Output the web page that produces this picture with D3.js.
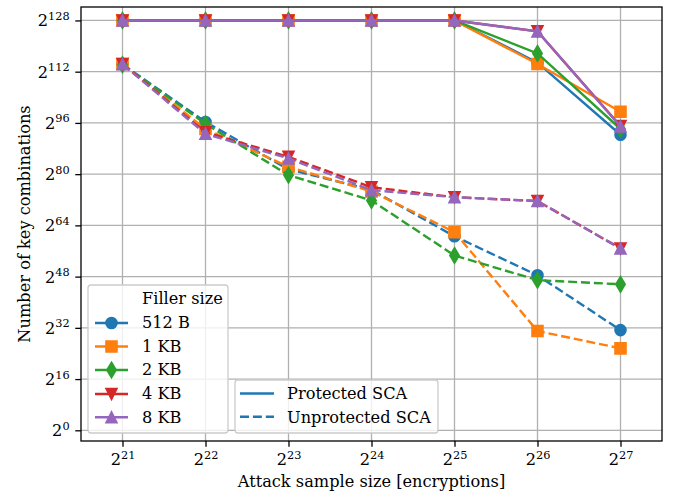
<!DOCTYPE html>
<html>
<head>
<meta charset="utf-8">
<script src="https://cdn.jsdelivr.net/npm/d3@7"></script>
<style>
  body { margin: 0; background: #fff; }
  text { font-family: "DejaVu Serif", serif; fill: #000; }
</style>
</head>
<body>
<div id="chart-holder"></div>
<script>
// x positions are log2 of the attack sample size
const exponents = [21, 22, 23, 24, 25, 26, 27];
const yTicks = [0, 16, 32, 48, 64, 80, 96, 112, 128];
const fillerSizes = ["512 B", "1 KB", "2 KB", "4 KB", "8 KB"];
const colors = ["#1f77b4", "#ff7f0e", "#2ca02c", "#d62728", "#9467bd"];
const markers = ["circle", "square", "thinDiamond", "triDown", "triUp"];

// log2 of the number of key combinations
const protected512B = [128, 128, 128, 128, 128, 114.8, 92.3];
const protected1KB  = [128, 128, 128, 128, 128, 114.4, 99.5];
const protected2KB  = [128, 128, 128, 128, 128, 117.7, 94.1];
const protected4KB  = [128, 128, 128, 128, 128, 124.6, 95.0];
const protected8KB  = [128, 128, 128, 128, 128, 124.6, 94.9];

const unprotected512B = [114.3, 96.3, 81.5, 75.1, 60.6, 48.4, 31.3];
const unprotected1KB  = [114.4, 94.1, 82.3, 74.6, 61.9, 31.0, 25.6];
const unprotected2KB  = [114.2, 95.7, 79.7, 71.8, 54.6, 46.9, 45.6];
const unprotected4KB  = [114.4, 93.1, 85.4, 75.9, 72.8, 71.6, 56.8];
const unprotected8KB  = [114.3, 92.6, 84.9, 75.0, 72.8, 71.6, 56.8];

const protectedSeries = [protected512B, protected1KB, protected2KB, protected4KB, protected8KB];
const unprotectedSeries = [unprotected512B, unprotected1KB, unprotected2KB, unprotected4KB, unprotected8KB];

const width = 674, height = 496;
const plotLeft = 81, plotRight = 662, plotTop = 7, plotBottom = 441;
const fontSize = "16.2px";
const lineW = 2.4;
const dash = "9,3.9";

const svg = d3.select("#chart-holder").append("svg")
    .attr("width", width)
    .attr("height", height);

const xScale = d3.scaleLinear().domain([20.5, 27.5]).range([plotLeft, plotRight]);
const yScale = d3.scaleLinear().domain([-3.34, 132.2]).range([plotBottom, plotTop]);

// grid
const grid = svg.append("g").attr("class", "grid");
grid.selectAll(".gx").data(exponents).enter().append("line")
    .attr("x1", d => xScale(d)).attr("x2", d => xScale(d))
    .attr("y1", plotTop).attr("y2", plotBottom)
    .attr("stroke", "#b0b0b0").attr("stroke-width", 1.3);
grid.selectAll(".gy").data(yTicks).enter().append("line")
    .attr("x1", plotLeft).attr("x2", plotRight)
    .attr("y1", d => yScale(d)).attr("y2", d => yScale(d))
    .attr("stroke", "#b0b0b0").attr("stroke-width", 1.3);

// marker shapes (size ms in px)
const ms = 11;
function markerPath(kind) {
  const h = ms / 2;
  if (kind === "circle") return d3.symbol(d3.symbolCircle, Math.PI * h * h)();
  if (kind === "square") return `M${-h},${-h}H${h}V${h}H${-h}Z`;
  if (kind === "thinDiamond") {
    const dy = ms * Math.SQRT2 / 2, dx = 0.6 * dy;
    return `M0,${-dy}L${dx},0L0,${dy}L${-dx},0Z`;
  }
  if (kind === "triDown") return `M0,${h}L${-h},${-h}L${h},${-h}Z`;
  return `M0,${-h}L${-h},${h}L${h},${h}Z`;
}

const line = d3.line()
    .x((d, i) => xScale(exponents[i]))
    .y(d => yScale(d));

const plot = svg.append("g").attr("class", "plot");
fillerSizes.forEach(function(name, k) {
  [[protectedSeries[k], null], [unprotectedSeries[k], dash]].forEach(function(pair) {
    const g = plot.append("g");
    g.append("path")
        .datum(pair[0])
        .attr("d", line)
        .attr("fill", "none")
        .attr("stroke", colors[k])
        .attr("stroke-width", lineW)
        .attr("stroke-dasharray", pair[1]);
    g.selectAll("path.mk").data(pair[0]).enter().append("path")
        .attr("class", "mk")
        .attr("transform", (d, i) => `translate(${xScale(exponents[i])},${yScale(d)})`)
        .attr("d", markerPath(markers[k]))
        .attr("fill", colors[k])
        .attr("stroke", colors[k])
        .attr("stroke-width", 1.6);
  });
});

// spines
svg.append("rect")
    .attr("x", plotLeft).attr("y", plotTop)
    .attr("width", plotRight - plotLeft).attr("height", plotBottom - plotTop)
    .attr("fill", "none").attr("stroke", "#000").attr("stroke-width", 1.3);

// superscript labels "2^n"
function powerLabel(sel) {
  sel.each(function(d) {
    const t = d3.select(this).text("");
    t.append("tspan").text("2");
    t.append("tspan").attr("dy", "-6.5px").attr("font-size", "11.3px").text(d);
  });
}

const xAxis = svg.append("g")
    .attr("transform", `translate(0,${plotBottom})`)
    .call(d3.axisBottom(xScale).tickValues(exponents).tickSize(5.7).tickPadding(5.7));
xAxis.select(".domain").remove();
xAxis.selectAll("line").attr("stroke", "#000").attr("stroke-width", 1.3);
xAxis.selectAll("text")
    .attr("font-size", fontSize).attr("font-family", "DejaVu Serif")
    .attr("y", 24).attr("dy", null)
    .call(powerLabel);

const yAxis = svg.append("g")
    .attr("transform", `translate(${plotLeft},0)`)
    .call(d3.axisLeft(yScale).tickValues(yTicks).tickSize(5.7).tickPadding(5.7));
yAxis.select(".domain").remove();
yAxis.selectAll("line").attr("stroke", "#000").attr("stroke-width", 1.3);
yAxis.selectAll("text")
    .attr("font-size", fontSize).attr("font-family", "DejaVu Serif")
    .attr("dy", null).attr("y", 5.5)
    .call(powerLabel);

// axis titles
svg.append("text")
    .attr("x", (plotLeft + plotRight) / 2).attr("y", 487)
    .attr("text-anchor", "middle").attr("font-size", fontSize)
    .text("Attack sample size [encryptions]");
svg.append("text")
    .attr("transform", `translate(29.5,${(plotTop + plotBottom) / 2}) rotate(-90)`)
    .attr("text-anchor", "middle").attr("font-size", fontSize)
    .text("Number of key combinations");

// legend: filler size
const leg1 = svg.append("g");
leg1.append("rect")
    .attr("x", 88).attr("y", 285).attr("width", 140).attr("height", 148)
    .attr("rx", 3).attr("fill", "#fff").attr("fill-opacity", 0.8)
    .attr("stroke", "#cccccc").attr("stroke-width", 1.3);
leg1.append("text").attr("x", 142).attr("y", 304.3).attr("font-size", fontSize).text("Filler size");
const rowY = [323, 346.5, 370, 394, 417.3];
fillerSizes.forEach(function(name, k) {
  const g = leg1.append("g").attr("transform", `translate(0,${rowY[k]})`);
  g.append("line").attr("x1", 95).attr("x2", 128).attr("y1", 0).attr("y2", 0)
      .attr("stroke", colors[k]).attr("stroke-width", lineW);
  g.append("path").attr("transform", "translate(111.5,0)")
      .attr("d", markerPath(markers[k]))
      .attr("fill", colors[k]).attr("stroke", colors[k]).attr("stroke-width", 1.6);
  g.append("text").attr("x", 142).attr("y", 5.2).attr("font-size", fontSize).text(name);
});

// legend: line style
const leg2 = svg.append("g");
leg2.append("rect")
    .attr("x", 235).attr("y", 380).attr("width", 203).attr("height", 53)
    .attr("rx", 3).attr("fill", "#fff").attr("fill-opacity", 0.8)
    .attr("stroke", "#cccccc").attr("stroke-width", 1.3);
[["Protected SCA", null], ["Unprotected SCA", dash]].forEach(function(item, k) {
  const y = 393.5 + k * 23.3;
  leg2.append("line").attr("x1", 240).attr("x2", 274).attr("y1", y).attr("y2", y)
      .attr("stroke", colors[0]).attr("stroke-width", lineW)
      .attr("stroke-dasharray", item[1]);
  leg2.append("text").attr("x", 287).attr("y", y + 5.8).attr("font-size", fontSize).text(item[0]);
});
</script>
</body>
</html>
